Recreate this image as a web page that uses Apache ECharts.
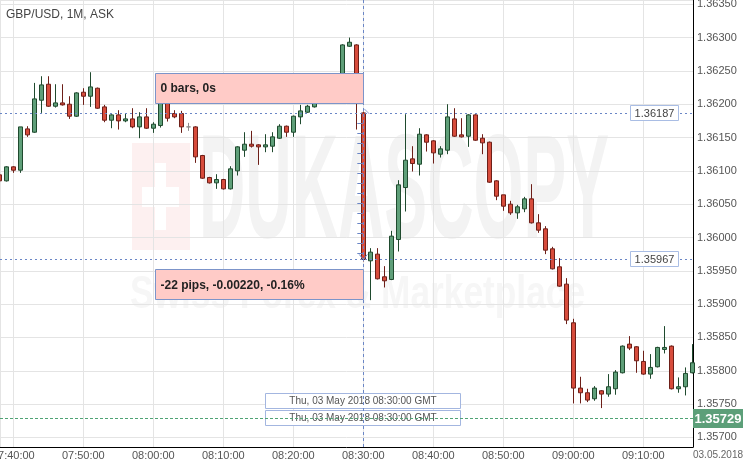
<!DOCTYPE html>
<html><head><meta charset="utf-8">
<script src="https://cdn.jsdelivr.net/npm/echarts@6/dist/echarts.min.js"></script>
<style>html,body{margin:0;padding:0;background:#fff}#c{width:743px;height:467px}</style>
</head><body><div id="c"></div>
<script>
const title = 'GBP/USD, 1M, ASK';
const dateLabel = '03.05.2018';
const times = [
'07:38','07:39','07:40','07:41','07:42','07:43','07:44','07:45','07:46','07:47',
'07:48','07:49','07:50','07:51','07:52','07:53','07:54','07:55','07:56','07:57',
'07:58','07:59','08:00','08:01','08:02','08:03','08:04','08:05','08:06','08:07',
'08:08','08:09','08:10','08:11','08:12','08:13','08:14','08:15','08:16','08:17',
'08:18','08:19','08:20','08:21','08:22','08:23','08:24','08:25','08:26','08:27',
'08:28','08:29','08:30','08:31','08:32','08:33','08:34','08:35','08:36','08:37',
'08:38','08:39','08:40','08:41','08:42','08:43','08:44','08:45','08:46','08:47',
'08:48','08:49','08:50','08:51','08:52','08:53','08:54','08:55','08:56','08:57',
'08:58','08:59','09:00','09:01','09:02','09:03','09:04','09:05','09:06','09:07',
'09:08','09:09','09:10','09:11','09:12','09:13','09:14','09:15','09:16','09:17'];
const opens = [
1.36094,1.36085,1.36106,1.36101,1.36163,1.36158,1.36206,1.36230,1.36197,1.36202,
1.36200,1.36182,1.36218,1.36212,1.36224,1.36196,1.36176,1.36184,1.36175,1.36178,
1.36166,1.36181,1.36164,1.36168,1.36205,1.36186,1.36186,1.36166,1.36166,1.36123,
1.36090,1.36082,1.36087,1.36073,1.36100,1.36131,1.36140,1.36139,1.36136,1.36137,
1.36149,1.36167,1.36158,1.36181,1.36188,1.36196,1.36205,1.36218,1.36230,1.36224,
1.36287,1.36289,1.36187,1.35965,1.35975,1.35941,1.35937,1.35997,1.36075,1.36118,
1.36110,1.36154,1.36145,1.36125,1.36131,1.36178,1.36154,1.36152,1.36184,1.36149,
1.36143,1.36085,1.36064,1.36050,1.36037,1.36043,1.36058,1.36022,1.36013,1.35983,
1.35956,1.35930,1.35872,1.35774,1.35767,1.35758,1.35770,1.35765,1.35773,1.35797,
1.35840,1.35836,1.35814,1.35795,1.35806,1.35832,1.35837,1.35773,1.35776,1.35797];
const closes = [
1.36085,1.36106,1.36101,1.36166,1.36154,1.36208,1.36229,1.36197,1.36202,1.36199,
1.36182,1.36217,1.36212,1.36226,1.36194,1.36176,1.36184,1.36175,1.36178,1.36166,
1.36181,1.36164,1.36170,1.36209,1.36179,1.36181,1.36166,1.36166,1.36121,1.36089,
1.36082,1.36087,1.36073,1.36103,1.36136,1.36140,1.36137,1.36136,1.36139,1.36151,
1.36167,1.36158,1.36182,1.36190,1.36197,1.36206,1.36218,1.36230,1.36224,1.36289,
1.36293,1.36206,1.35967,1.35978,1.35938,1.35935,1.36002,1.36079,1.36116,1.36111,
1.36155,1.36143,1.36127,1.36133,1.36181,1.36152,1.36151,1.36184,1.36146,1.36142,
1.36083,1.36062,1.36047,1.36037,1.36046,1.36058,1.36022,1.36011,1.35981,1.35953,
1.35927,1.35876,1.35774,1.35767,1.35756,1.35774,1.35765,1.35776,1.35798,1.35837,
1.35834,1.35815,1.35795,1.35805,1.35835,1.35835,1.35773,1.35776,1.35796,1.35812];
const lows = [
1.36084,1.36084,1.36097,1.36097,1.36151,1.36157,1.36187,1.36196,1.36195,1.36198,
1.36178,1.36181,1.36199,1.36196,1.36193,1.36173,1.36164,1.36162,1.36173,1.36164,
1.36149,1.36163,1.36157,1.36165,1.36174,1.36179,1.36157,1.36160,1.36112,1.36088,
1.36081,1.36073,1.36072,1.36072,1.36093,1.36121,1.36135,1.36109,1.36128,1.36128,
1.36148,1.36151,1.36151,1.36170,1.36187,1.36195,1.36202,1.36214,1.36218,1.36221,
1.36286,1.36162,1.35964,1.35906,1.35937,1.35925,1.35936,1.35979,1.36039,1.36099,
1.36093,1.36129,1.36111,1.36120,1.36125,1.36151,1.36150,1.36136,1.36145,1.36125,
1.36082,1.36056,1.36040,1.36034,1.36028,1.36038,1.36021,1.36007,1.35975,1.35952,
1.35926,1.35870,1.35751,1.35751,1.35753,1.35755,1.35744,1.35761,1.35764,1.35796,
1.35831,1.35797,1.35794,1.35788,1.35805,1.35826,1.35772,1.35767,1.35763,1.35796];
const highs = [
1.36095,1.36107,1.36107,1.36166,1.36167,1.36232,1.36242,1.36242,1.36230,1.36230,
1.36212,1.36218,1.36224,1.36248,1.36225,1.36199,1.36185,1.36191,1.36186,1.36194,
1.36188,1.36194,1.36173,1.36212,1.36209,1.36191,1.36190,1.36172,1.36167,1.36124,
1.36091,1.36095,1.36088,1.36107,1.36137,1.36158,1.36160,1.36140,1.36155,1.36158,
1.36170,1.36168,1.36183,1.36199,1.36199,1.36209,1.36221,1.36236,1.36236,1.36290,
1.36300,1.36290,1.36189,1.35984,1.35984,1.35957,1.36010,1.36086,1.36185,1.36137,
1.36164,1.36155,1.36146,1.36137,1.36200,1.36194,1.36179,1.36185,1.36185,1.36155,
1.36144,1.36086,1.36064,1.36055,1.36049,1.36061,1.36080,1.36035,1.36017,1.35986,
1.35969,1.35939,1.35878,1.35791,1.35773,1.35777,1.35771,1.35795,1.35801,1.35838,
1.35852,1.35837,1.35830,1.35825,1.35836,1.35867,1.35838,1.35790,1.35805,1.35840];
const yMin = 1.356856, yMax = 1.363564;
const crossTime = '08:30';
const measureHigh = 1.36187, measureLow = 1.35967, currentPrice = 1.35729;
const measureTopText = '0 bars, 0s';
const measureBottomText = '-22 pips, -0.00220, -0.16%';
const crossDateText = 'Thu, 03 May 2018 08:30:00 GMT';
const watermarkText = 'DUKASCOPY';
const watermarkSub = 'Swiss Forex & Marketplace';

const FONT = 'Liberation Sans, Arial, sans-serif';
const ts = s => { const [h, m] = s.split(':').map(Number); return new Date(2018, 4, 3, h, m).getTime(); };
const xMin = ts(times[0]) + 6000;
const xMax = xMin + 99 * 60000;

const candles = times.map((t, i) => {
  const v = [ts(t), opens[i], closes[i], lows[i], highs[i]];
  if (opens[i] === closes[i]) {
    return { value: v, itemStyle: { color: '#8c8c8c', color0: '#8c8c8c', borderColor: '#8c8c8c', borderColor0: '#8c8c8c' } };
  }
  return v;
});

const chart = echarts.init(document.getElementById('c'));
chart.setOption({
  animation: false,
  backgroundColor: '#ffffff',
  grid: { left: 0, right: 50, top: 0, bottom: 20, containLabel: false, outerBoundsMode: 'none' },
  xAxis: {
    type: 'time', min: xMin, max: xMax, splitNumber: 8,
    axisLine: { lineStyle: { color: '#000', width: 1 } },
    axisTick: { show: false },
    axisLabel: { formatter: '{HH}:{mm}:{ss}', color: '#555', fontSize: 11, fontFamily: FONT, margin: 3,
      showMinLabel: false, showMaxLabel: false, hideOverlap: false },
    splitLine: { show: true, lineStyle: { color: '#e4e4e4', width: 1 } }
  },
  yAxis: {
    type: 'value', position: 'right', min: yMin, max: yMax, splitNumber: 13,
    axisLine: { show: true, lineStyle: { color: '#000', width: 1 } },
    axisTick: { show: false },
    axisLabel: { formatter: v => v.toFixed(5), color: '#555', fontSize: 11, fontFamily: FONT, margin: 4,
      showMinLabel: false, showMaxLabel: false },
    splitLine: { show: true, lineStyle: { color: '#e4e4e4', width: 1 } }
  },
  series: [{
    type: 'candlestick', data: candles, barWidth: 5, clip: true,
    itemStyle: { color: '#5f9f79', color0: '#d74c3c', borderColor: '#1f4a2e', borderColor0: '#6d1f18', borderWidth: 1 }
  }]
});

function px(t, v) { return chart.convertToPixel({ gridIndex: 0 }, [typeof t === 'string' ? ts(t) : t, v]); }

const [xc, yHi] = px(crossTime, measureHigh);
const yLo = px(crossTime, measureLow)[1];
const yCur = px(crossTime, currentPrice)[1];
const gLeft = px(xMin, yMax)[0], gTop = px(xMin, yMax)[1];
const [gRight, gBottom] = px(xMax, yMin);

const cv = document.createElement('canvas').getContext('2d');
cv.font = 'bold 148px "Liberation Sans Narrow", "Liberation Sans", Arial, sans-serif';
const wmScale = 410 / cv.measureText(watermarkText).width;
cv.font = 'bold 46px "Liberation Sans", Arial, sans-serif';
const subScale = 455 / cv.measureText(watermarkSub).width;

const G = [];
G.push({ type: 'rect', z: -5, shape: { x: 132, y: 143, width: 58, height: 107 }, style: { fill: '#fdf0f0' } });
G.push({ type: 'rect', z: -4, shape: { x: 155, y: 163, width: 11, height: 67 }, style: { fill: '#ffffff' } });
G.push({ type: 'rect', z: -4, shape: { x: 142, y: 187, width: 37, height: 20 }, style: { fill: '#ffffff' } });
G.push({ type: 'text', z: -5, x: 199, y: 197, scaleX: wmScale, style: { text: watermarkText, fill: '#f3f3f3',
  font: 'bold 148px "Liberation Sans Narrow", "Liberation Sans", Arial, sans-serif', textVerticalAlign: 'middle' } });
G.push({ type: 'text', z: -5, x: 130, y: 295, scaleX: subScale, style: { text: watermarkSub, fill: '#f6f6f6',
  font: 'bold 46px "Liberation Sans", Arial, sans-serif', textVerticalAlign: 'middle' } });

G.push({ type: 'text', z: 50, x: 6, y: 9, style: { text: title, fill: '#444', font: '12px ' + FONT } });
G.push({ type: 'text', z: 50, x: 718, y: 455, style: { text: dateLabel, fill: '#666', font: '10px ' + FONT, textAlign: 'center', textVerticalAlign: 'middle' } });

[yHi, yLo].forEach(y => {
  G.push({ type: 'line', z: 60, shape: { x1: gLeft, y1: Math.round(y) + 0.5, x2: gRight, y2: Math.round(y) + 0.5 },
    style: { stroke: '#6a86c6', lineWidth: 1, lineDash: [2, 3] } });
});
G.push({ type: 'line', z: 60, shape: { x1: Math.round(xc) + 0.5, y1: gTop, x2: Math.round(xc) + 0.5, y2: gBottom },
  style: { stroke: '#6a86c6', lineWidth: 1, lineDash: [3, 3] } });

[[yHi, measureHigh], [yLo, measureLow]].forEach(([y, v]) => {
  G.push({ type: 'rect', z: 70, shape: { x: gRight - 62.5, y: Math.round(y) - 7.5, width: 48, height: 15 },
    style: { fill: '#ffffff', stroke: '#a9bde4', lineWidth: 1 } });
  G.push({ type: 'text', z: 71, x: gRight - 38.5, y: Math.round(y) + 0.5, style: { text: v.toFixed(5), fill: '#444',
    font: '11px ' + FONT, textAlign: 'center', textVerticalAlign: 'middle' } });
});

const bx = Math.round(xc) - 208 + 0.5;
G.push({ type: 'rect', z: 80, shape: { x: bx, y: Math.round(yHi) - 40 + 0.5, width: 208, height: 30 },
  style: { fill: '#ffcbc7', stroke: '#7c94c9', lineWidth: 1 } });
G.push({ type: 'text', z: 81, x: bx + 5, y: Math.round(yHi) - 24, style: { text: measureTopText, fill: '#222',
  font: 'bold 12px ' + FONT, textVerticalAlign: 'middle' } });
G.push({ type: 'rect', z: 80, shape: { x: bx, y: Math.round(yLo) + 10 + 0.5, width: 208, height: 30 },
  style: { fill: '#ffcbc7', stroke: '#7c94c9', lineWidth: 1 } });
G.push({ type: 'text', z: 81, x: bx + 5, y: Math.round(yLo) + 27, style: { text: measureBottomText, fill: '#222',
  font: 'bold 12px ' + FONT, textVerticalAlign: 'middle' } });

for (let y = yHi + 10; y < yLo - 3; y += 10) {
  G.push({ type: 'line', z: 75, shape: { x1: xc - 6, y1: Math.round(y) + 0.5, x2: xc, y2: Math.round(y) + 0.5 },
    style: { stroke: '#6a86c6', lineWidth: 1 } });
}
G.push({ type: 'polyline', z: 75, shape: { points: [[xc - 4, yLo - 5], [xc, yLo], [xc + 4, yLo - 5]] },
  style: { stroke: '#6a86c6', lineWidth: 1, fill: null } });
G.push({ type: 'polyline', z: 75, shape: { points: [[xc + 1, yHi - 4], [xc + 6, yHi + 1]] },
  style: { stroke: '#8ea3d6', lineWidth: 1, fill: null } });

[gBottom - 54, gBottom - 37].forEach(y => {
  G.push({ type: 'rect', z: 55, shape: { x: Math.round(xc) - 97.5, y: Math.round(y) + 0.5, width: 195, height: 15 },
    style: { fill: '#ffffff', stroke: '#a3b6e0', lineWidth: 1 } });
  G.push({ type: 'text', z: 56, x: Math.round(xc), y: Math.round(y) + 8, style: { text: crossDateText, fill: '#555',
    font: '10px ' + FONT, textAlign: 'center', textVerticalAlign: 'middle' } });
});

G.push({ type: 'line', z: 65, shape: { x1: gLeft, y1: Math.round(yCur) + 0.5, x2: gRight, y2: Math.round(yCur) + 0.5 },
  style: { stroke: '#4fa374', lineWidth: 1, lineDash: [3, 2] } });
G.push({ type: 'rect', z: 90, shape: { x: gRight, y: Math.round(yCur) - 9, width: 50, height: 19 },
  style: { fill: '#5c9f79' } });
G.push({ type: 'text', z: 91, x: gRight + 25, y: Math.round(yCur) + 1, style: { text: currentPrice.toFixed(5), fill: '#fff',
  font: 'bold 13px ' + FONT, textAlign: 'center', textVerticalAlign: 'middle' } });

chart.setOption({ graphic: { elements: G } });
</script></body></html>
